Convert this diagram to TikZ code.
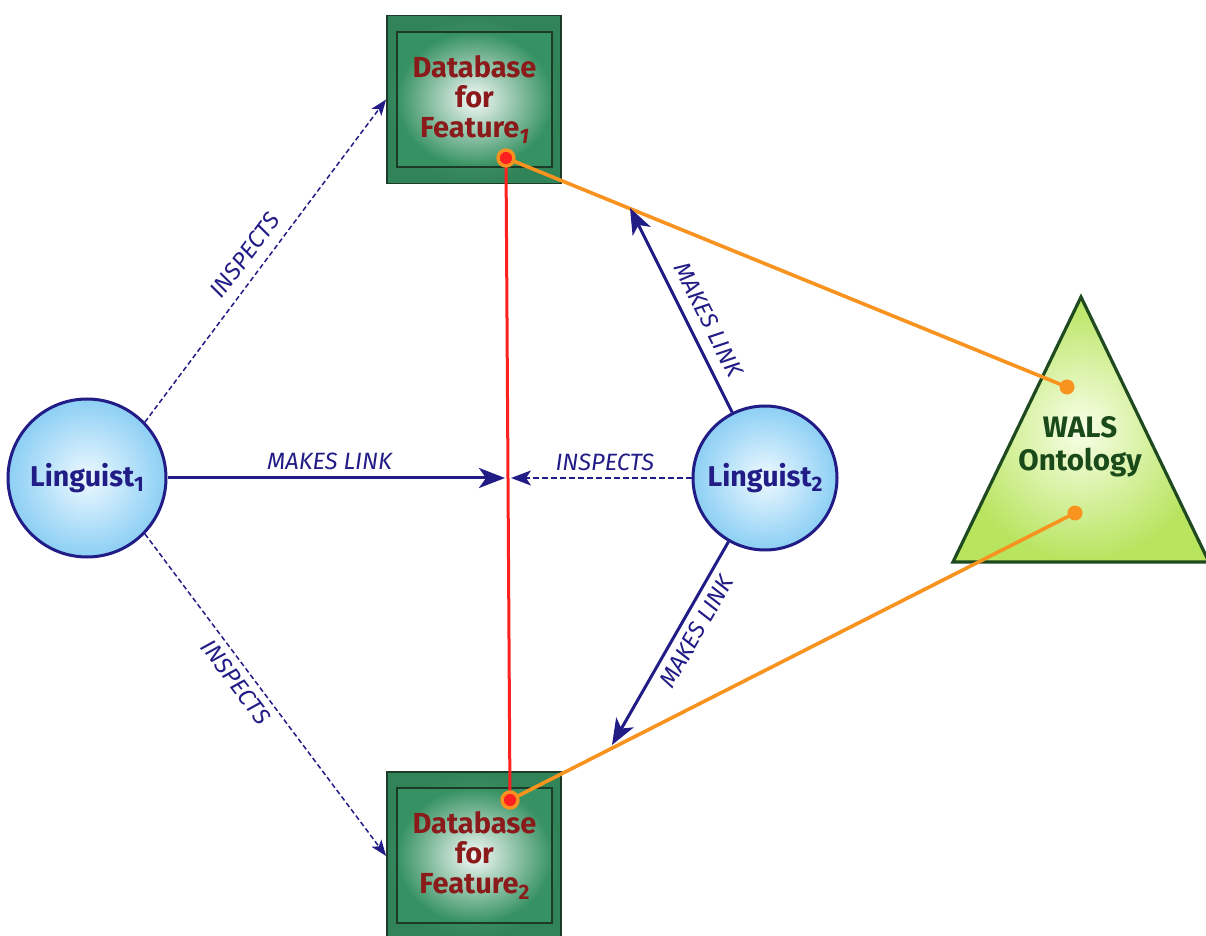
\documentclass[tikz,border=0pt]{standalone}
\usepackage{fontspec}
\setmainfont{Fira Sans}
\usetikzlibrary{arrows.meta}
\definecolor{navy}{HTML}{221C86}
\definecolor{dbred}{HTML}{8B1A1A}
\definecolor{dbgreen}{HTML}{3A9A68}
\definecolor{dbedge}{HTML}{1C3A28}
\definecolor{cblue}{HTML}{8CCFF4}
\definecolor{cwhite}{HTML}{EEF9FF}
\definecolor{tgreen}{HTML}{B8E45E}
\definecolor{twhite}{HTML}{F8FFE8}
\definecolor{tedge}{HTML}{1F4A1F}
\definecolor{wtext}{HTML}{1A4A1A}
\definecolor{orng}{HTML}{F7931E}
\definecolor{rred}{HTML}{FF2020}
\newcommand{\lowidx}[1]{\raisebox{-0.35ex}{\fontsize{10.5}{10.5}\selectfont #1}}
\begin{document}
\begin{tikzpicture}[x=0.5pt,y=-0.5pt,
  dbouter/.style={draw=dbedge, line width=0.9pt, minimum width=87pt, minimum height=84pt,
    inner color=dbgreen!85!white, outer color=dbgreen!85!black},
  dbinner/.style={draw=dbedge, line width=0.9pt, minimum width=77.5pt, minimum height=67.5pt,
    inner color=white!95!dbgreen, outer color=dbgreen!95!black, text=dbred,
    font=\bfseries\fontsize{14.5}{15}\selectfont, align=center, inner sep=0pt},
  person/.style={circle, draw=navy, line width=1.5pt, minimum size=79pt, inner sep=0.5pt,
    inner color=cwhite, outer color=cblue, text=navy, font=\bfseries\fontsize{14.3}{15}\selectfont},
  tri/.style={draw=tedge, line width=1.6pt, line join=miter, inner color=twhite, outer color=tgreen},
  walstext/.style={text=wtext, font=\bfseries\fontsize{14.8}{16.5}\selectfont, align=center},
  link/.style={navy, line width=1.5pt, -{Stealth[length=13pt,width=10pt,inset=3.5pt]}},
  look/.style={navy, line width=0.75pt, dash pattern=on 2.5pt off 1.5pt,
    -{Stealth[length=8pt,width=6pt,inset=2pt]}},
  lookh/.style={navy, line width=1pt, dash pattern=on 3pt off 1.5pt,
    -{Stealth[length=10pt,width=7.5pt,inset=2.5pt]}},
  lab/.style={text=navy, font=\itshape\fontsize{11.8}{13}\selectfont},
  redline/.style={rred, line width=1.5pt},
  orangeline/.style={orng, line width=1.8pt},
  dbdot/.style={circle, fill=rred, draw=orng, line width=1.7pt, minimum size=8pt, inner sep=0pt},
  wdot/.style={circle, fill=orng, minimum size=7.5pt, inner sep=0pt}
]
\useasboundingbox (0,0) rectangle (1206,936);
\clip (0,0) rectangle (1206,936);
\fill[white] (0,0) rectangle (1206,936);

% databases
\node[dbouter] (db1) at (474,99.5) {};
\node[dbinner] (db1t) at (474.5,99.5) {Database\\for\\Feature\lowidx{\itshape 1}};
\node[dbouter] (db2) at (474,856) {};
\node[dbinner] (db2t) at (474.5,855.5) {Database\\for\\Feature\lowidx{2}};

% WALS ontology
\draw[tri] (1081,297) -- (1209,562) -- (953,562) -- cycle;
\node[walstext] (wals) at (1080,447) {WALS\\Ontology};

% linguists
\node[person] (l1) at (87,478) {Linguist\lowidx{1}};
\node[person, minimum size=72pt] (l2) at (765,478) {Linguist\lowidx{2}};

% link points
\coordinate (d1) at (506,158);
\coordinate (d2) at (510,800);
\coordinate (w1) at (1067,387);
\coordinate (w2) at (1075,513);
\coordinate (ml) at (505,478);
\coordinate (mr) at (511,478);
\coordinate (ua) at (630,208);
\coordinate (la) at (612,745);

\draw[redline] (d1) -- (d2);
\draw[orangeline] (d1) -- (w1);
\draw[orangeline] (d2) -- (w2);

% arrows
\draw[link] (l1) -- node[lab, above, pos=0.48] {MAKES LINK} (ml);
\draw[lookh] (l2) -- node[lab, above, pos=0.48] {INSPECTS} (mr);
\draw[look] (l1.44) -- node[lab, above=2pt, sloped, pos=0.48] {INSPECTS} (db1.west);
\draw[look] (l1.-44) -- node[lab, below, sloped, pos=0.43] {INSPECTS} (db2.west);
\draw[link] (l2) -- node[lab, above=2pt, sloped, pos=0.41] {MAKES LINK} (ua);
\draw[link] (l2) -- node[lab, below, sloped, pos=0.4] {MAKES LINK} (la);

% dots
\node[dbdot] (d1dot) at (d1) {};
\node[dbdot] (d2dot) at (d2) {};
\node[wdot] (w1dot) at (w1) {};
\node[wdot] (w2dot) at (w2) {};
\end{tikzpicture}
\end{document}
